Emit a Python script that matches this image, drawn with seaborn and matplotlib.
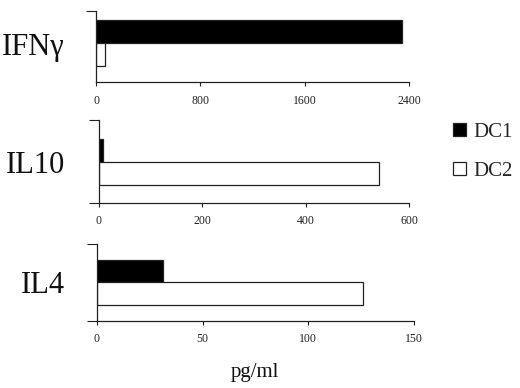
import matplotlib.pyplot as plt
import pandas as pd
import seaborn as sns

# valori (pg/ml)
cytokines = ["IFNγ", "IL10", "IL4"]
cells = ["DC1", "DC2"]
dc1_values = [2350, 8, 31]
dc2_values = [70, 542, 126]
x_limits = [2400, 600, 150]
x_ticks = [[0, 800, 1600, 2400], [0, 200, 400, 600], [0, 50, 100, 150]]

df = pd.DataFrame(
    {
        "cytokine": cytokines * 2,
        "cell": ["DC1"] * len(cytokines) + ["DC2"] * len(cytokines),
        "value": dc1_values + dc2_values,
    }
)

sns.set_theme(style="ticks")
plt.rcParams["font.family"] = ["Liberation Serif", "DejaVu Serif"]

fig = plt.figure(figsize=(5.2, 3.88), dpi=100)

# pozitia panourilor (pixeli: stanga, sus, latime, jos)
panels = [(96, 11, 313, 82), (99, 120, 310, 203), (97, 244, 317, 321)]
y_ranges = [(0.664, -0.545), (0.698, -0.715), (0.693, -0.676)]
label_baselines = [55, 173, 293]
bottom_tick = [False, True, True]

axes = []
for i, name in enumerate(cytokines):
    left, top, width, bottom = panels[i]
    ax = fig.add_axes([left / 520, 1 - bottom / 388, width / 520, (bottom - top) / 388])
    sub = df[df["cytokine"] == name]
    sns.barplot(
        data=sub,
        x="value",
        y="cytokine",
        hue="cell",
        hue_order=cells,
        palette={"DC1": "black", "DC2": "white"},
        edgecolor="#222222",
        linewidth=0.9,
        orient="h",
        width=0.8,
        legend=(i == 1),
        ax=ax,
    )
    ax.set_xlim(0, x_limits[i])
    ax.set_ylim(*y_ranges[i])
    ax.set_xticks(x_ticks[i])
    ax.set_xticklabels([str(t) for t in x_ticks[i]], fontsize=8.5)
    yt = [y_ranges[i][1], y_ranges[i][0]] if bottom_tick[i] else [y_ranges[i][1]]
    ax.set_yticks(yt)
    ax.set_yticklabels([""] * len(yt))
    ax.set_xlabel("")
    ax.set_ylabel("")
    ax.tick_params(axis="x", direction="out", length=3, width=0.8, pad=6, colors="#222222")
    ax.tick_params(axis="y", direction="out", length=7, width=0.8, colors="#222222")
    for s in ["top", "right"]:
        ax.spines[s].set_visible(False)
    for s in ["left", "bottom"]:
        ax.spines[s].set_linewidth(0.9)
        ax.spines[s].set_color("#222222")
    fig.text(65 / 520, 1 - label_baselines[i] / 388, name, ha="right", va="baseline",
             fontsize=22, color="#111111")
    axes.append(ax)

sns.move_legend(
    axes[1],
    "center left",
    bbox_to_anchor=(453 / 520, 1 - 152 / 388),
    bbox_transform=fig.transFigure,
    frameon=False,
    title=None,
    fontsize=15,
    handlelength=0.6,
    handleheight=0.6,
    handletextpad=0.4,
    labelspacing=0.95,
    borderpad=0,
    borderaxespad=0,
)

fig.text(255 / 520, 1 - 373 / 388, "pg/ml", ha="center", va="center", fontsize=15,
         color="#111111")

fig.savefig("out.png", dpi=100)
